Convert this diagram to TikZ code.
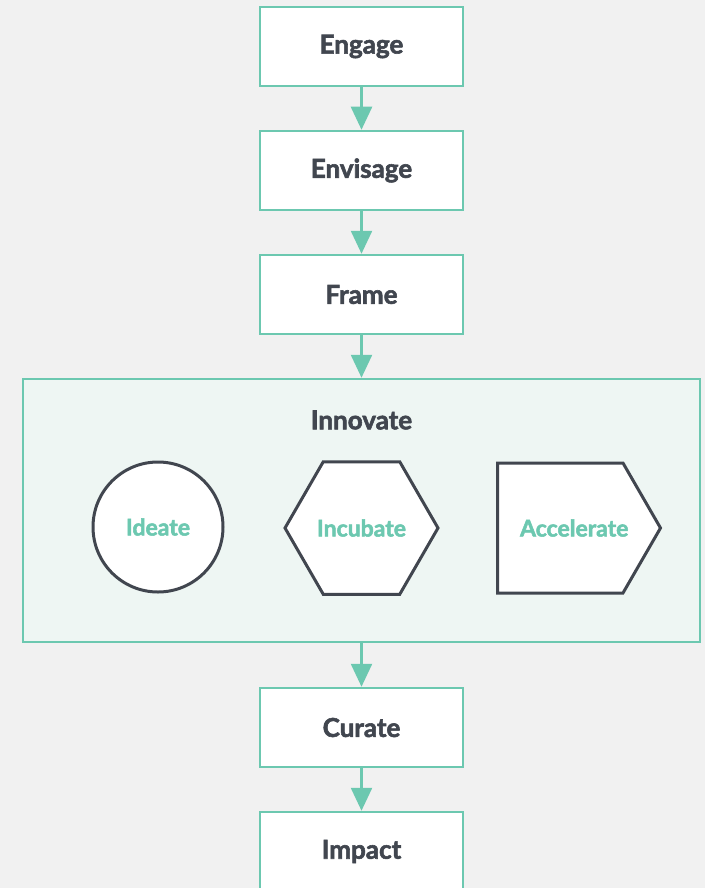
\documentclass[tikz,border=0pt]{standalone}
\usepackage{fontspec}
\setmainfont{Lato}[BoldFeatures={FakeBold=2.2}]
\usetikzlibrary{arrows.meta,shapes.geometric,shapes.symbols}
\definecolor{teal}{HTML}{6CC8B0}
\definecolor{ink}{HTML}{41464F}
\definecolor{paper}{HTML}{F1F1F1}
\definecolor{mint}{HTML}{EEF6F3}

\begin{document}
\begin{tikzpicture}[x=1pt,y=-1pt,
    stage/.style={draw=teal,line width=2.5pt,fill=white,minimum width=203pt,minimum height=79pt,
      inner sep=0pt,text=ink,font=\fontsize{26}{30}\selectfont\bfseries},
    phase/.style={draw=ink,line width=3pt,fill=white,inner sep=0pt,text=teal,
      font=\fontsize{23}{27}\selectfont\bfseries},
    phasetext/.style={text=teal,font=\fontsize{23}{27}\selectfont\bfseries},
    flow/.style={draw=teal,line width=2.5pt,-{Triangle[length=23pt,width=21pt]}}]
        \fill[paper] (0,0) rectangle (705,888);
        \useasboundingbox (0,0) rectangle (705,888);
        \node[stage] (engage) at (361.5,46.5) {Engage};
        \node[stage] (envisage) at (361.5,170.5) {Envisage};
        \node[stage] (frame) at (361.5,294.5) {Frame};
        \node[draw=teal,line width=2.5pt,fill=mint,minimum width=677pt,minimum height=263pt,inner sep=0pt] (innovate) at (361.5,510.5) {};
        \node[text=ink,font=\fontsize{26}{30}\selectfont\bfseries] (innovatelbl) at (361.5,420) {Innovate};
        \node[phase,circle,minimum size=130pt] (ideate) at (158,527) {Ideate};
        \node[phase,regular polygon,regular polygon sides=6,minimum size=153pt] (incubate) at (361.5,528) {Incubate};
        \node[phase,signal,signal to=east,signal pointer angle=120,minimum width=163pt,minimum height=130pt,anchor=west,
          label={[phasetext,xshift=14pt]center:Accelerate}] (accelerate) at (496,528) {};
        \node[stage] (curate) at (361.5,727.5) {Curate};
        \node[stage] (impact) at (361.5,851.5) {Impact};
        \draw[flow] (engage) -- (envisage);
        \draw[flow] (envisage) -- (frame);
        \draw[flow] (frame) -- (innovate);
        \draw[flow] (innovate) -- (curate);
        \draw[flow] (curate) -- (impact);
\end{tikzpicture}
\end{document}
